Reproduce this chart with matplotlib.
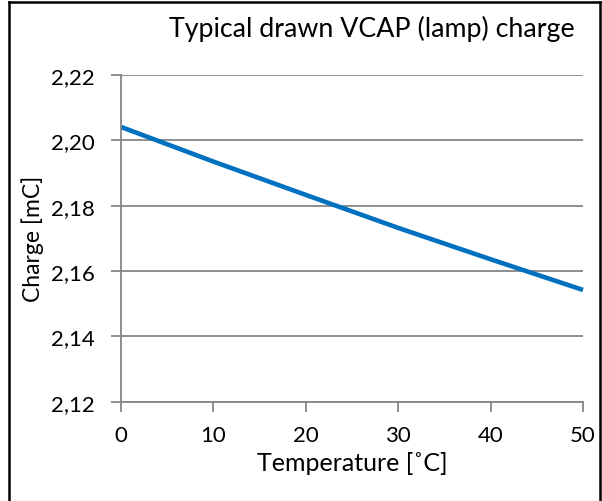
import matplotlib
import numpy as np
from matplotlib import pyplot as plt
from matplotlib.ticker import FuncFormatter

matplotlib.use('Agg')

# values
temperature = [0, 10, 20, 30, 40, 50]
charge = [2.2041, 2.1935, 2.1833, 2.1732, 2.1636, 2.1542]
x_ticks = [0, 10, 20, 30, 40, 50]
y_ticks = [2.12, 2.14, 2.16, 2.18, 2.20, 2.22]

title = 'Typical drawn VCAP (lamp) charge'
x_label = 'Temperature [\u02daC]'
y_label = 'Charge [mC]'

plt.rcParams['font.family'] = ['Lato', 'DejaVu Sans']
grey = '#868686'

if __name__ == '__main__':
    fig = plt.figure(figsize=(6.02, 5.02), dpi=100)
    ax = fig.add_axes([121 / 602, 1 - 402.7 / 502, (583 - 121) / 602, (402.7 - 76) / 502])

    ax.plot(temperature, charge, color='#0070C0', linewidth=3.3, solid_capstyle='butt', clip_on=False)

    ax.set_xlim(0, 50)
    ax.set_ylim(2.12, 2.22)
    ax.set_xticks(x_ticks)
    ax.set_yticks(y_ticks)
    ax.yaxis.set_major_formatter(FuncFormatter(lambda v, p: ('%.2f' % v).replace('.', ',')))
    ax.grid(axis='y', color=grey, linewidth=1.3)
    ax.set_axisbelow(True)
    for s in ['top', 'right']:
        ax.spines[s].set_visible(False)
    for s in ['left', 'bottom']:
        ax.spines[s].set_color(grey)
        ax.spines[s].set_linewidth(1.3)
    ax.tick_params(axis='both', direction='out', length=7, width=1.3, color=grey,
                   labelsize=16, labelcolor='black')
    ax.tick_params(axis='y', pad=12)
    ax.tick_params(axis='x', pad=10)

    ax.set_xlabel(x_label, fontsize=18, labelpad=4)
    ax.set_ylabel(y_label, fontsize=16.5, labelpad=5)
    fig.text(371.5 / 602, 1 - 29 / 502, title, fontsize=19.3, ha='center', va='center')

    # chart border
    fig.add_artist(plt.Line2D([9 / 602, 9 / 602], [0, 1 - 3 / 502], color='black', linewidth=1.8))
    fig.add_artist(plt.Line2D([9 / 602, 600 / 602], [1 - 3 / 502, 1 - 3 / 502], color='black', linewidth=1.8))
    fig.add_artist(plt.Line2D([600 / 602, 600 / 602], [0, 1 - 3 / 502], color='black', linewidth=1.8))

    plt.savefig('out.png', dpi=100)
    plt.close()
